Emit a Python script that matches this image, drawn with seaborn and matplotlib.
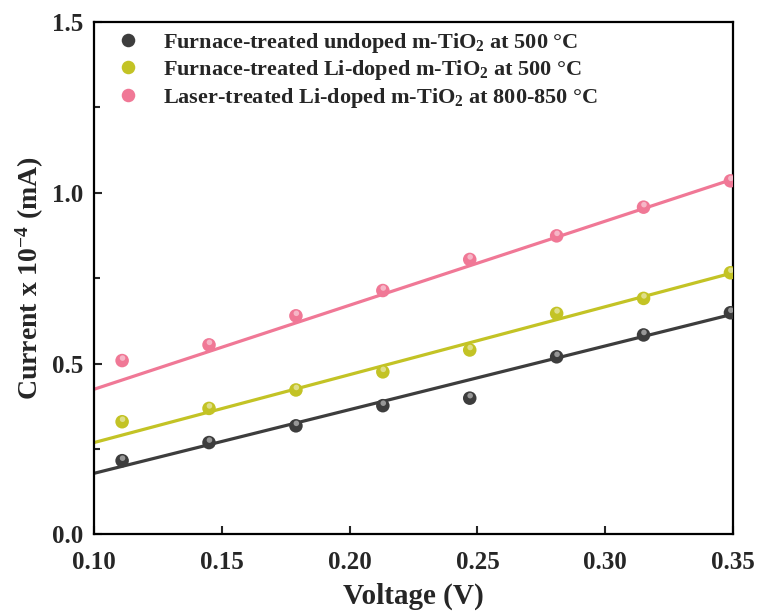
import matplotlib
matplotlib.use("Agg")
import matplotlib.pyplot as plt
from matplotlib.transforms import offset_copy
import matplotlib.colors as mcolors
import numpy as np
import pandas as pd
import seaborn as sns

# ---------------- data ----------------
voltage = [0.111, 0.145, 0.179, 0.213, 0.247, 0.281, 0.315, 0.349]
undoped_furnace = [0.216, 0.269, 0.318, 0.377, 0.399, 0.520, 0.584, 0.649]
li_furnace = [0.330, 0.369, 0.423, 0.476, 0.540, 0.647, 0.691, 0.766]
li_laser = [0.509, 0.555, 0.640, 0.714, 0.805, 0.874, 0.958, 1.035]

fit_x = [0.10, 0.35]
fit_undoped = [0.179, 0.645]
fit_li_furnace = [0.269, 0.766]
fit_li_laser = [0.425, 1.040]

series_labels = [
    r"Furnace-treated undoped m-TiO$_\mathbf{2}$ at 500 °C",
    r"Furnace-treated Li-doped m-TiO$_\mathbf{2}$ at 500 °C",
    r"Laser-treated Li-doped m-TiO$_\mathbf{2}$ at 800-850 °C",
]
series_colors = ["#3d3d3d", "#c3c325", "#f07896"]

x_ticks = [0.10, 0.15, 0.20, 0.25, 0.30, 0.35]
y_ticks = [0.0, 0.5, 1.0, 1.5]

# ---------------- tables ----------------
pts = pd.concat([
    pd.DataFrame({"V": voltage, "I": vals, "series": lab})
    for vals, lab in zip([undoped_furnace, li_furnace, li_laser], series_labels)
])
fits = pd.concat([
    pd.DataFrame({"V": fit_x, "I": vals, "series": lab})
    for vals, lab in zip([fit_undoped, fit_li_furnace, fit_li_laser], series_labels)
])
palette = dict(zip(series_labels, series_colors))


def lighten(c, f):
    r = np.array(mcolors.to_rgb(c))
    return tuple(r + (1 - r) * f)


hl_palette = {k: lighten(v, 0.55) for k, v in palette.items()}

# ---------------- style ----------------
sns.set_theme(style="ticks")
plt.rcParams["font.family"] = ["Liberation Serif", "DejaVu Serif"]
plt.rcParams["font.weight"] = "bold"
plt.rcParams["axes.labelweight"] = "bold"
plt.rcParams["mathtext.fontset"] = "custom"
plt.rcParams["mathtext.rm"] = "Liberation Serif:bold"
plt.rcParams["mathtext.bf"] = "Liberation Serif:bold"
plt.rcParams["mathtext.it"] = "Liberation Serif:bold:italic"

fig = plt.figure(figsize=(7.63, 6.14), dpi=100)
ax = fig.add_axes([0.1232, 0.1295, 0.8375, 0.8347])

sns.lineplot(data=fits, x="V", y="I", hue="series", palette=palette,
             linewidth=2.3, legend=False, ax=ax, zorder=2)
sns.scatterplot(data=pts, x="V", y="I", hue="series", palette=palette,
                s=95, edgecolor="none", linewidth=0, ax=ax, zorder=3,
                legend=True)
# glossy highlight on each sphere-like marker
hl_tr = offset_copy(ax.transData, fig=fig, x=0.3, y=1.8, units="points")
sns.scatterplot(data=pts, x="V", y="I", hue="series", palette=hl_palette,
                s=16, edgecolor="none", linewidth=0, ax=ax, zorder=4,
                legend=False, transform=hl_tr, alpha=0.85)

ax.set_xlim(0.10, 0.35)
ax.set_ylim(0.0, 1.5)
ax.set_xticks(x_ticks)
ax.set_yticks(y_ticks)
ax.set_yticks([0.25, 0.75, 1.25], minor=True)
ax.set_xticklabels([f"{t:.2f}" for t in x_ticks])
ax.set_yticklabels([f"{t:.1f}" for t in y_ticks])
ax.tick_params(axis="both", which="major", direction="in", length=5.5,
               width=1.5, labelsize=18)
ax.tick_params(axis="x", which="major", pad=12)
ax.tick_params(axis="y", which="major", pad=8)
ax.tick_params(axis="y", which="minor", direction="in", length=4, width=1.5)
for sp in ax.spines.values():
    sp.set_linewidth(1.6)
    sp.set_color("black")

ax.set_xlabel("Voltage (V)", fontsize=21, fontweight="bold", labelpad=6)
ax.set_ylabel(r"Current x 10$^{\mathbf{-4}}$ (mA)", fontsize=20,
              fontweight="bold", labelpad=4)

handles, labels = ax.get_legend_handles_labels()
leg = ax.legend(handles, labels, loc="upper left", frameon=False,
                fontsize=16, handletextpad=0.96, labelspacing=0.15,
                borderaxespad=0.0, bbox_to_anchor=(0.0186, 1.0),
                markerscale=1.0, handlelength=1.2)

fig.savefig("out.png", dpi=100)
